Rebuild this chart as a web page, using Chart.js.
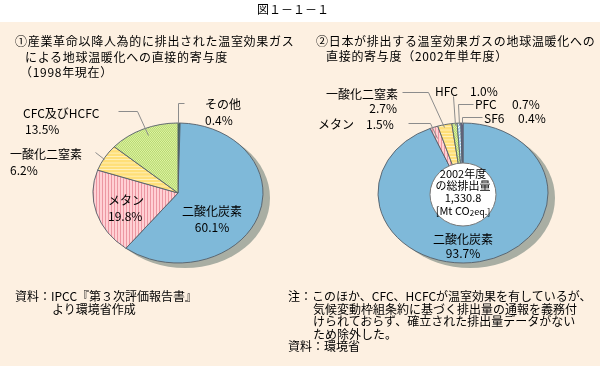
<!DOCTYPE html>
<html><head><meta charset="utf-8">
<script src="https://cdn.jsdelivr.net/npm/chart.js@4.4.1/dist/chart.umd.min.js"></script>
<style>
html,body{margin:0;padding:0;}
body{width:600px;height:366px;position:relative;background:#fff;overflow:hidden;font-family:"Noto Sans CJK JP",sans-serif;color:#000;}
#bg{position:absolute;left:0;top:22px;width:600px;height:344px;background:#FDF0E1;}
canvas{position:absolute;top:0;}
.t{position:absolute;font-size:12px;line-height:14px;white-space:nowrap;}
.h{letter-spacing:0.7px;}
</style></head>
<body>
<div id="bg"></div>
<canvas id="c1" width="300" height="366" style="left:0"></canvas>
<canvas id="c2" width="300" height="366" style="left:300px"></canvas>
<div class="t" style="left:257px;top:2px">図１－１－１</div>
<div class="t h" style="left:15px;top:34px">①産業革命以降人為的に排出された温室効果ガス</div>
<div class="t h" style="left:25px;top:50px">による地球温暖化への直接的寄与度</div>
<div class="t h" style="left:20px;top:65px">（1998年現在）</div>
<div class="t h" style="left:316px;top:34px">②日本が排出する温室効果ガスの地球温暖化への</div>
<div class="t h" style="left:326px;top:49px">直接的寄与度（2002年単年度）</div>
<div class="t" style="left:15px;top:289px">資料：IPCC『第３次評価報告書』</div>
<div class="t" style="left:52px;top:302px">より環境省作成</div>
<div class="t" style="left:288px;top:289px">注：このほか、CFC、HCFCが温室効果を有しているが、</div>
<div class="t" style="left:313px;top:302px">気候変動枠組条約に基づく排出量の通報を義務付</div>
<div class="t" style="left:313px;top:314px">けられておらず、確立された排出量データがない</div>
<div class="t" style="left:313px;top:327px">ため除外した。</div>
<div class="t" style="left:288px;top:339px">資料：環境省</div>
<script>
// ---- data ----
const leftCategories = ['その他', '二酸化炭素', 'メタン', '一酸化二窒素', 'CFC及びHCFC'];
const leftValues = [0.4, 60.1, 19.8, 6.2, 13.5];
const rightCategories = ['二酸化炭素', 'メタン', '一酸化二窒素', 'HFC', 'PFC', 'SF6'];
const rightValues = [93.7, 1.5, 2.7, 1.0, 0.7, 0.4];
const totalLines = ['2002年度', 'の総排出量', '1,330.8'];

// ---- patterns ----
function pat(w, h, draw) {
  const c = document.createElement('canvas'); c.width = w; c.height = h;
  const x = c.getContext('2d'); draw(x); return x.createPattern(c, 'repeat');
}
const blue = '#7FB9D9';
const pink = pat(3, 3, x => { x.fillStyle = '#FFD0D4'; x.fillRect(0,0,3,3); x.fillStyle = '#EC97A2'; x.fillRect(0,0,1,3); });
const yellow = pat(4, 4, x => { x.fillStyle = '#FFDF78'; x.fillRect(0,0,4,4); x.fillStyle = '#FFF3C4'; x.fillRect(0,0,4,1); });
const green = pat(2, 2, x => { x.fillStyle = '#E2F4AA'; x.fillRect(0,0,2,2); x.fillStyle = '#B4D86A'; x.fillRect(0,0,1,1); x.fillRect(1,1,1,1); });
const lblue = pat(4, 4, x => { x.fillStyle = '#A9D4F0'; x.fillRect(0,0,4,4); x.fillStyle = '#FFFFFF'; for (let i=0;i<4;i++) x.fillRect(i,3-i,1,1); });
const other = '#2F7656';
const sf6 = '#6C6488';

const RY = 70 / 85;
const FONT = '"Noto Sans CJK JP", sans-serif';

function fmt(v) { return v.toFixed(1) + '%'; }

const piePlugin = {
  id: 'piePlugin',
  beforeDatasetsDraw(chart, args, o) {
    const ctx = chart.ctx, a = chart.chartArea;
    const cx = (a.left + a.right) / 2, cy = (a.top + a.bottom) / 2;
    ctx.save();
    ctx.fillStyle = '#A9AEA3';
    ctx.beginPath(); ctx.ellipse(cx + 7, cy + 5, 85, 70, 0, 0, Math.PI * 2); ctx.fill();
    ctx.restore();
    ctx.save();
    ctx.translate(cx, cy); ctx.scale(1, RY); ctx.translate(-cx, -cy);
  },
  afterDatasetsDraw(chart, args, o) {
    const ctx = chart.ctx;
    ctx.restore();
    ctx.save();
    ctx.strokeStyle = '#8C8C8C'; ctx.lineWidth = 1;
    (o.leaders || []).forEach(pts => {
      ctx.beginPath();
      pts.forEach((p, i) => i ? ctx.lineTo(p[0] + 0.5, p[1] + 0.5) : ctx.moveTo(p[0] + 0.5, p[1] + 0.5));
      ctx.stroke();
    });
    if (o.hole) {
      const h = o.hole;
      ctx.fillStyle = '#FFFFFF'; ctx.strokeStyle = '#7A7A7A';
      ctx.beginPath(); ctx.ellipse(h.x, h.y, h.rx, h.ry, 0, 0, Math.PI * 2); ctx.fill(); ctx.stroke();
    }
    ctx.fillStyle = '#000'; ctx.textBaseline = 'middle';
    (o.texts || []).forEach(t => {
      ctx.font = (t.size || 12) + 'px ' + FONT;
      ctx.textAlign = t.align || 'left';
      ctx.fillText(t.s, t.x, t.y);
    });
    if (o.hole) {
      const y = o.hole.unitY, parts = [['[Mt CO', 11, 0], ['2', 8, 2], ['eq.]', 9, 1]];
      let w = 0;
      parts.forEach(p => { ctx.font = p[1] + 'px ' + FONT; w += ctx.measureText(p[0]).width; });
      let x = o.hole.x - w / 2; ctx.textAlign = 'left';
      parts.forEach(p => { ctx.font = p[1] + 'px ' + FONT; ctx.fillText(p[0], x, y + p[2]); x += ctx.measureText(p[0]).width; });
    }
    ctx.restore();
  }
};

const L = leftCategories, LV = leftValues;
new Chart(document.getElementById('c1'), {
  type: 'pie',
  data: { labels: leftCategories, datasets: [{ data: leftValues,
    backgroundColor: [other, blue, pink, yellow, green], borderColor: '#56606A', borderWidth: 1 }] },
  options: {
    responsive: false, animation: false, radius: 85,
    layout: { padding: { left: 93, right: 37, top: 108, bottom: 88 } },
    plugins: { legend: { display: false }, tooltip: { enabled: false },
      piePlugin: {
        leaders: [[[178,123],[178,103],[184,103]], [[118,111],[137,111],[148,135]], [[95,152],[104,159]]],
        texts: [
          { s: L[0], x: 205, y: 104 }, { s: fmt(LV[0]), x: 205, y: 120 },
          { s: L[4], x: 23, y: 113 }, { s: fmt(LV[4]), x: 25, y: 129 },
          { s: L[3], x: 10, y: 154 }, { s: fmt(LV[3]), x: 10, y: 170 },
          { s: L[2], x: 108, y: 200 }, { s: fmt(LV[2]), x: 108, y: 216 },
          { s: L[1], x: 212, y: 211, align: 'center' }, { s: fmt(LV[1]), x: 212, y: 227, align: 'center' }
        ]
      } }
  },
  plugins: [piePlugin]
});

const R = rightCategories, RV = rightValues;
const ox = 300;
new Chart(document.getElementById('c2'), {
  type: 'doughnut',
  data: { labels: rightCategories, datasets: [{ data: rightValues,
    backgroundColor: [blue, pink, yellow, green, lblue, sf6], borderColor: '#56606A', borderWidth: 1 }] },
  options: {
    responsive: false, animation: false, radius: 85, cutout: '38%',
    layout: { padding: { left: 78, right: 52, top: 108, bottom: 88 } },
    plugins: { legend: { display: false }, tooltip: { enabled: false },
      piePlugin: {
        hole: { x: 163, y: 194.5, rx: 33, ry: 31.5, unitY: 211 },
        leaders: [
          [[402-ox,92],[428-ox,92],[444-ox,127]],
          [[453-ox,96],[455-ox,125]],
          [[473-ox,104],[458-ox,104],[459-ox,125]],
          [[482-ox,117],[462-ox,117],[462-ox,124]],
          [[408-ox,123],[430-ox,123],[437-ox,138]]
        ],
        texts: [
          { s: R[2], x: 398-ox, y: 94, align: 'right' }, { s: fmt(RV[2]), x: 397-ox, y: 108, align: 'right' },
          { s: R[3], x: 435-ox, y: 91 }, { s: fmt(RV[3]), x: 470-ox, y: 91 },
          { s: R[4], x: 475-ox, y: 104 }, { s: fmt(RV[4]), x: 512-ox, y: 104 },
          { s: R[5], x: 484-ox, y: 118 }, { s: fmt(RV[5]), x: 518-ox, y: 118 },
          { s: R[1], x: 318-ox, y: 124 }, { s: fmt(RV[1]), x: 366-ox, y: 124 },
          { s: totalLines[0], x: 163, y: 174, align: 'center', size: 11 },
          { s: totalLines[1], x: 163, y: 186, align: 'center', size: 11 },
          { s: totalLines[2], x: 163, y: 198, align: 'center', size: 11 },
          { s: R[0], x: 163, y: 239, align: 'center' }, { s: fmt(RV[0]), x: 163, y: 253, align: 'center' }
        ]
      } }
  },
  plugins: [piePlugin]
});
</script>
</body></html>
